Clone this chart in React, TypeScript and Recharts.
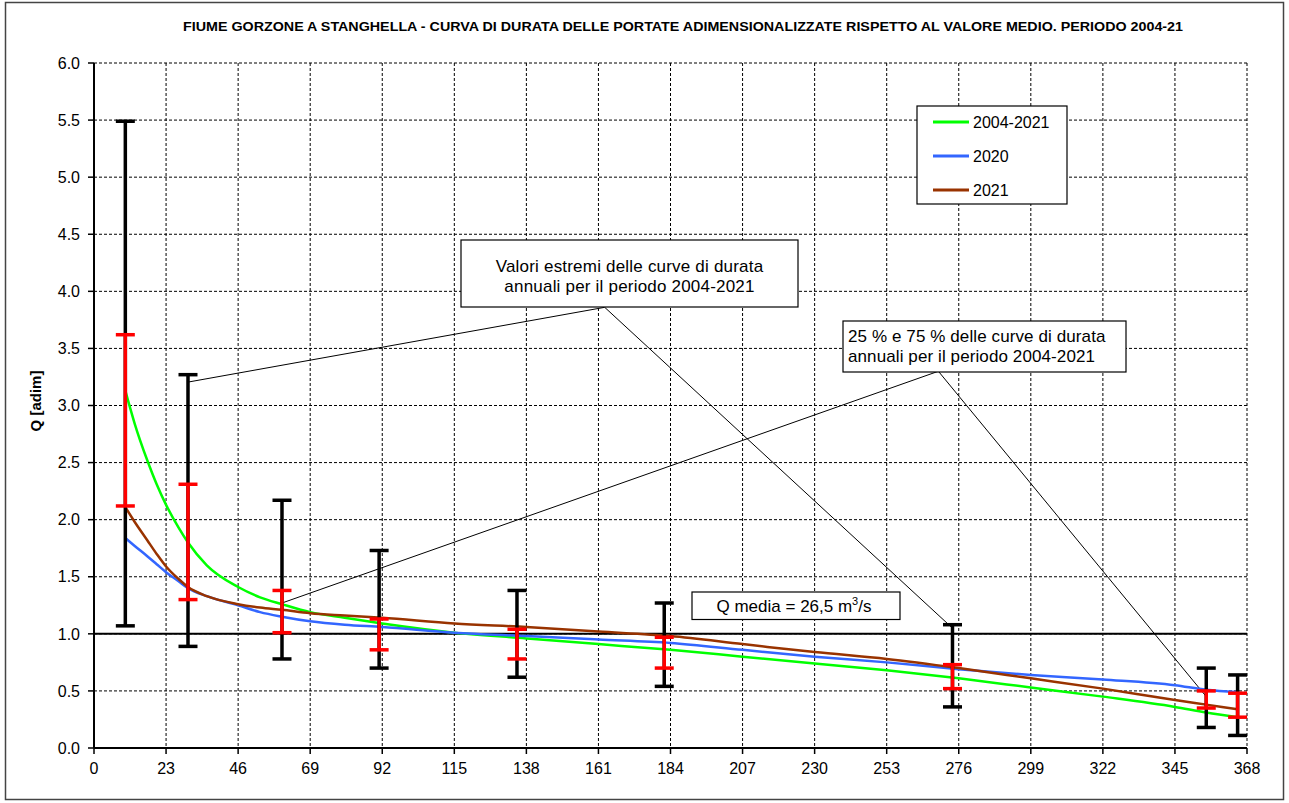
import React from 'react';
import {
  ComposedChart,
  Line,
  Scatter,
  ErrorBar,
  XAxis,
  YAxis,
  CartesianGrid,
  ReferenceLine,
} from 'recharts';

const titleText =
  'FIUME GORZONE A STANGHELLA - CURVA DI DURATA DELLE PORTATE ADIMENSIONALIZZATE RISPETTO AL VALORE MEDIO. PERIODO 2004-21';
const yAxisLabel = 'Q [adim]';
const xTicks = [0, 23, 46, 69, 92, 115, 138, 161, 184, 207, 230, 253, 276, 299, 322, 345, 368];
const yTicks = [0, 0.5, 1, 1.5, 2, 2.5, 3, 3.5, 4, 4.5, 5, 5.5, 6];

// duration curves (day of the year -> Q / Qmean)
const days = [10, 13, 17, 20, 23, 27, 30, 36, 46, 53, 60, 69, 80, 92, 115, 138, 161, 184, 207, 230, 253, 276, 299, 322, 345, 355, 365];
const curve2004_2021 = [3.13, 2.84, 2.52, 2.31, 2.13, 1.93, 1.8, 1.6, 1.41, 1.32, 1.26, 1.19, 1.14, 1.09, 1.01, 0.96, 0.91, 0.86, 0.8, 0.74, 0.68, 0.61, 0.53, 0.45, 0.36, 0.31, 0.27];
const curve2020 = [1.84, 1.77, 1.68, 1.61, 1.54, 1.46, 1.4, 1.33, 1.25, 1.19, 1.15, 1.11, 1.08, 1.06, 1.01, 0.98, 0.95, 0.92, 0.86, 0.8, 0.75, 0.69, 0.64, 0.6, 0.55, 0.51, 0.49];
const curve2021 = [2.11, 1.98, 1.82, 1.7, 1.59, 1.48, 1.41, 1.33, 1.26, 1.23, 1.21, 1.18, 1.16, 1.14, 1.09, 1.06, 1.02, 0.98, 0.91, 0.84, 0.78, 0.7, 0.61, 0.52, 0.42, 0.38, 0.34];

// range bars
const barDays = [10, 30, 60, 91, 135, 182, 274, 355, 365];
const extremeMax = [5.49, 3.27, 2.17, 1.73, 1.38, 1.27, 1.08, 0.7, 0.64];
const extremeMin = [1.07, 0.89, 0.78, 0.7, 0.62, 0.54, 0.36, 0.18, 0.11];
const q75 = [3.62, 2.31, 1.38, 1.13, 1.04, 0.97, 0.73, 0.5, 0.48];
const q25 = [2.12, 1.3, 1.01, 0.86, 0.78, 0.7, 0.52, 0.35, 0.27];

const seriesNames = ['2004-2021', '2020', '2021'];
const seriesColors = ['#00ff00', '#3366ff', '#993300'];
const seriesValues = [curve2004_2021, curve2020, curve2021];

const meanLevel = 1;
const meanLabel = 'Q media = 26,5 m';

const annotation1 = ['Valori estremi delle curve di durata', 'annuali  per il periodo 2004-2021'];
const annotation2 = ['25 % e 75 % delle curve di durata', 'annuali  per il periodo 2004-2021'];
// leader lines in data coordinates
const leader1 = [
  [{ x: 30, y: 3.205 }, { x: 163, y: 3.86 }],
  [{ x: 163, y: 3.86 }, { x: 274, y: 1.05 }],
];
const leader2 = [
  [{ x: 60, y: 1.27 }, { x: 269.5, y: 3.3 }],
  [{ x: 269.5, y: 3.3 }, { x: 355, y: 0.45 }],
];

const curveData = seriesValues.map((vals) => days.map((d, i) => ({ x: d, y: vals[i] })));
const extremeData = barDays.map((d, i) => ({ x: d, y: extremeMin[i], err: [0, +(extremeMax[i] - extremeMin[i]).toFixed(3)] }));
const quartData = barDays.map((d, i) => ({ x: d, y: q25[i], err: [0, +(q75[i] - q25[i]).toFixed(3)] }));

const FONT = '"Liberation Sans", Arial, Helvetica, sans-serif';
const W = 1289;
const H = 803;

const EmptyShape = () => <g />;

export default function App() {
  const tickStyle = { fontSize: 16, fontFamily: FONT, fill: '#000' };
  return (
    <div style={{ position: 'absolute', left: 0, top: 0, width: W, height: H, background: '#fff' }}>
      <ComposedChart
        width={W}
        height={H}
        margin={{ top: 63, right: 42, left: 0, bottom: 25 }}
      >
        <CartesianGrid stroke="#000" strokeDasharray="3 2" strokeWidth={1} />
        <XAxis
          dataKey="x"
          type="number"
          domain={[0, 368]}
          ticks={xTicks}
          interval={0}
          height={30}
          tickSize={6}
          tickMargin={9}
          tick={tickStyle}
          axisLine={{ stroke: '#000', strokeWidth: 2 }}
          tickLine={{ stroke: '#000', strokeWidth: 1.5 }}
          allowDuplicatedCategory={false}
        />
        <YAxis
          type="number"
          domain={[0, 6]}
          ticks={yTicks}
          interval={0}
          width={94}
          tickSize={6}
          tickMargin={8}
          tick={tickStyle}
          tickFormatter={(v: number) => v.toFixed(1)}
          axisLine={{ stroke: '#000', strokeWidth: 2 }}
          tickLine={{ stroke: '#000', strokeWidth: 1.5 }}
        />
        <ReferenceLine y={meanLevel} stroke="#000" strokeWidth={2} />
        {leader1.map((seg, i) => (
          <ReferenceLine key={'l1' + i} segment={seg} stroke="#000" strokeWidth={1} />
        ))}
        {leader2.map((seg, i) => (
          <ReferenceLine key={'l2' + i} segment={seg} stroke="#000" strokeWidth={1} />
        ))}
        {curveData.map((d, i) => (
          <Line
            key={seriesNames[i]}
            data={d}
            dataKey="y"
            name={seriesNames[i]}
            type="monotone"
            stroke={seriesColors[i]}
            strokeWidth={2.5}
            dot={false}
            activeDot={false}
            isAnimationActive={false}
          />
        ))}
        <Scatter data={extremeData} dataKey="y" shape={EmptyShape} isAnimationActive={false}>
          <ErrorBar dataKey="err" direction="y" width={9.5} stroke="#000" strokeWidth={3.5} isAnimationActive={false} />
        </Scatter>
        <Scatter data={quartData} dataKey="y" shape={EmptyShape} isAnimationActive={false}>
          <ErrorBar dataKey="err" direction="y" width={9.5} stroke="#ff0000" strokeWidth={3.5} isAnimationActive={false} />
        </Scatter>
      </ComposedChart>

      <svg
        width={W}
        height={H}
        style={{ position: 'absolute', left: 0, top: 0, pointerEvents: 'none' }}
        fontFamily={FONT}
      >
        <rect x={5.5} y={2.5} width={1278} height={797} fill="none" stroke="#444" strokeWidth={1.5} />
        <text
          x={683}
          y={31}
          textAnchor="middle"
          fontSize={12}
          fontWeight="bold"
          textLength={1000}
          lengthAdjust="spacingAndGlyphs"
          fill="#000"
        >
          {titleText}
        </text>
        <text
          x={0}
          y={0}
          transform="translate(41,401) rotate(-90)"
          textAnchor="middle"
          fontSize={15}
          fontWeight="bold"
          fill="#000"
        >
          {yAxisLabel}
        </text>

        {/* legend */}
        <rect x={917} y={106} width={150} height={98} fill="#fff" stroke="#000" strokeWidth={1.2} />
        {seriesNames.map((n, i) => (
          <g key={n}>
            <line x1={933} x2={969} y1={122 + i * 34} y2={122 + i * 34} stroke={seriesColors[i]} strokeWidth={3} />
            <text x={973} y={128 + i * 34} fontSize={16} fill="#000">
              {n}
            </text>
          </g>
        ))}

        {/* annotation 1 */}
        <rect x={461} y={240} width={337} height={67} fill="#fff" stroke="#000" strokeWidth={1.2} />
        {annotation1.map((t, i) => (
          <text key={t} x={629.5} y={271.5 + i * 20} textAnchor="middle" fontSize={17} letterSpacing={0.2} fill="#000">
            {t}
          </text>
        ))}

        {/* annotation 2 */}
        <rect x={843} y={321} width={283} height={51} fill="#fff" stroke="#000" strokeWidth={1.2} />
        {annotation2.map((t, i) => (
          <text key={t} x={848} y={341.5 + i * 20} fontSize={17} letterSpacing={0.1} fill="#000">
            {t}
          </text>
        ))}

        {/* mean label */}
        <rect x={692} y={592} width={208} height={27.5} fill="#fff" stroke="#000" strokeWidth={1.2} />
        <text x={794} y={611.5} textAnchor="middle" fontSize={17} fill="#000">
          {meanLabel}
          <tspan fontSize={11} dy={-7}>3</tspan>
          <tspan dy={7}>/s</tspan>
        </text>
      </svg>
    </div>
  );
}
